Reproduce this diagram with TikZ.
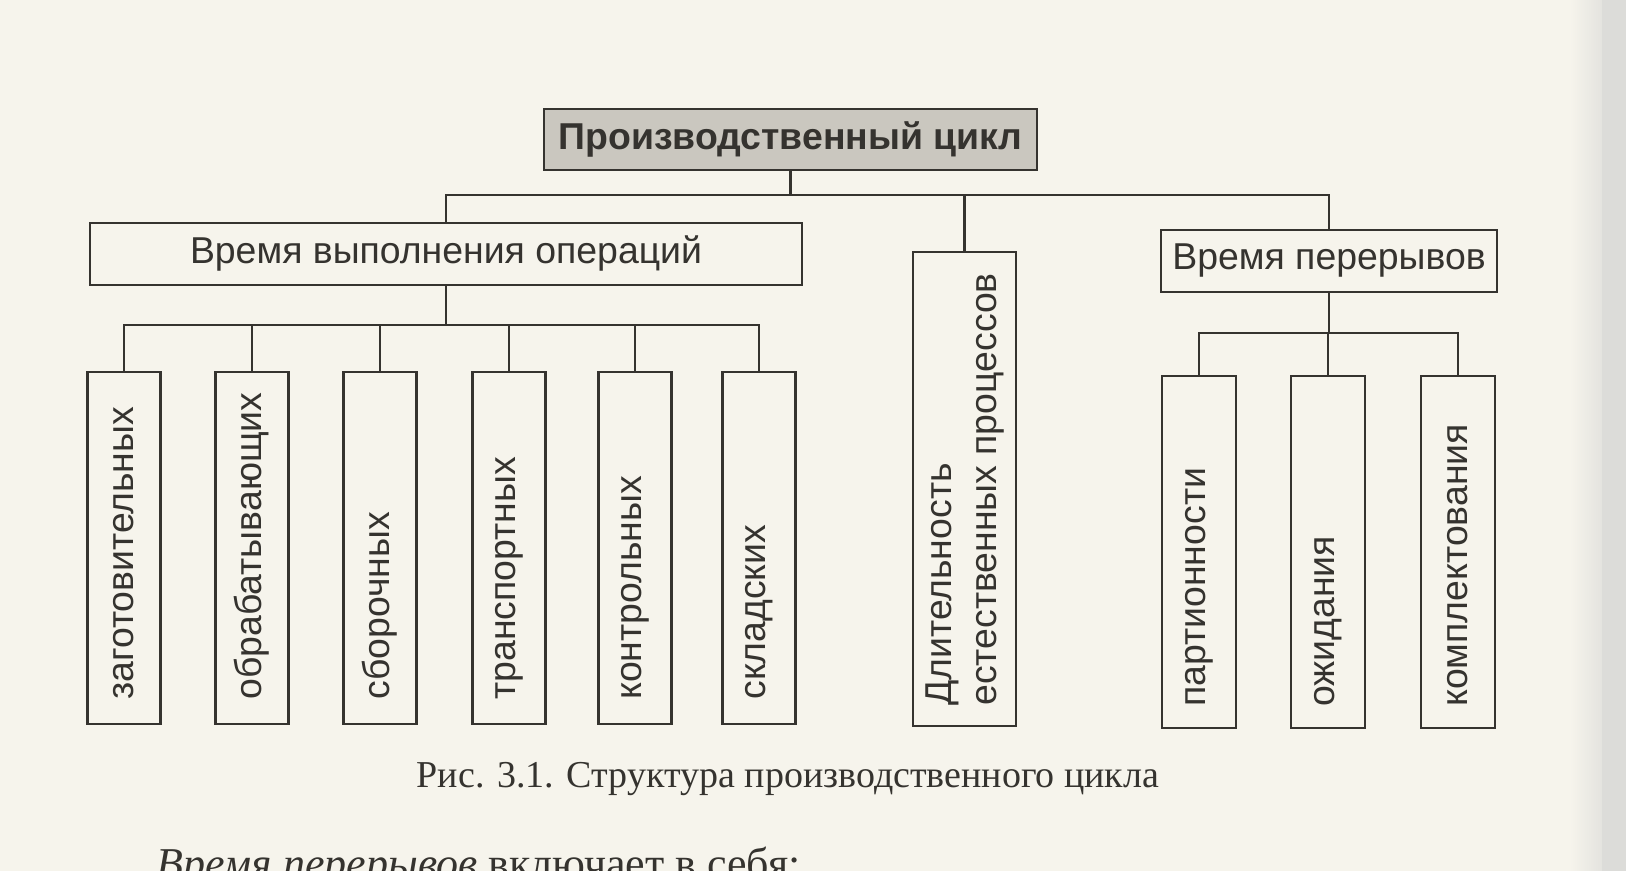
\documentclass[tikz,border=0pt]{standalone}
\usepackage{fontspec}
\setmainfont{Liberation Serif}
\setsansfont{Liberation Sans}
\usetikzlibrary{calc}
\definecolor{paper}{HTML}{F6F4EC}
\definecolor{strip}{HTML}{DCDCD9}
\definecolor{ink}{HTML}{35332F}
\definecolor{shadefill}{HTML}{CAC7BF}
\begin{document}
\begin{tikzpicture}[x=0.5pt,y=-0.5pt,
  box/.style={draw=ink, line width=1.4pt, inner sep=0pt, outer sep=0pt},
  lbl/.style={font=\sffamily\fontsize{18.7}{22.5}\selectfont, text=ink, inner sep=0pt},
  vlbl/.style={lbl, rotate=90, anchor=west, align=left},
  conn/.style={draw=ink, line width=1.4pt}]
\useasboundingbox (0,0) rectangle (1626,871);
\clip (0,0) rectangle (1626,871);
\fill[paper] (0,0) rectangle (1626,871);
\shade[left color=paper, right color=strip!70!paper] (1570,0) rectangle (1602,871);
\fill[strip] (1602,0) rectangle (1626,871);

% top level
\node[box, fill=shadefill, minimum width=246.5pt, minimum height=30.5pt] (top) at (790.5,139.5) {};
\node[lbl, font=\sffamily\bfseries\fontsize{18.7}{22.5}\selectfont] (ttop) at (top.center) {Производственный цикл};

% second level
\node[box, minimum width=356pt, minimum height=31pt] (vvo) at (446,254) {};
\node[lbl] (tvvo) at (vvo.center) {Время выполнения операций};
\node[box, minimum width=51.5pt, minimum height=237pt] (dl) at (964.5,489) {};
\node[vlbl] (tdl) at ($(dl.south)+(0,-20)$) {Длительность\\естественных процессов};
\node[box, minimum width=168pt, minimum height=31pt] (vp) at (1329,261) {};
\node[lbl] (tvp) at (vp.center) {Время перерывов};

% operations
\foreach \n/\x/\t in {1/124/заготовительных, 2/252/обрабатывающих, 3/380/сборочных,
                      4/509/транспортных, 5/635/контрольных, 6/759/складских}{
  \node[box, minimum width=36.5pt, minimum height=176pt] (o\n) at (\x,548) {};
  \node[vlbl] (to\n) at ($(o\n.south)+(0,-24)$) {\t};
}

% breaks
\foreach \n/\x/\t in {1/1199/партионности, 2/1328/ожидания, 3/1458/комплектования}{
  \node[box, minimum width=37pt, minimum height=176pt] (p\n) at (\x,552) {};
  \node[vlbl] (tp\n) at ($(p\n.south)+(0,-21)$) {\t};
}

% connectors
\coordinate (b1) at (0,195);
\coordinate (b2) at (0,325);
\coordinate (b3) at (0,333);
\draw[conn] (top.south) -- (top.south |- b1);
\draw[conn] (vvo.north) |- (vp.north |- b1) -- (vp.north);
\draw[conn] (dl.north) -- (dl.north |- b1);

\draw[conn] (vvo.south) -- (vvo.south |- b2);
\draw[conn] (o1.north) |- (o6.north |- b2) -- (o6.north);
\foreach \n in {2,3,4,5}{ \draw[conn] (o\n.north) -- (o\n.north |- b2); }

\draw[conn] (vp.south) -- (vp.south |- b3);
\draw[conn] (p1.north) |- (p3.north |- b3) -- (p3.north);
\draw[conn] (p2.north) -- (p2.north |- b3);

% caption and following text
\node[anchor=base, inner sep=0pt, text=ink, font=\fontsize{19}{22}\selectfont] (cap) at (788,787) {Рис. 3.1. Структура производственного цикла};
\node[anchor=base west, inner sep=0pt, text=ink, font=\fontsize{22}{26}\selectfont] (next) at (156,878) {\textit{Время перерывов} включает в себя:};
\end{tikzpicture}
\end{document}
